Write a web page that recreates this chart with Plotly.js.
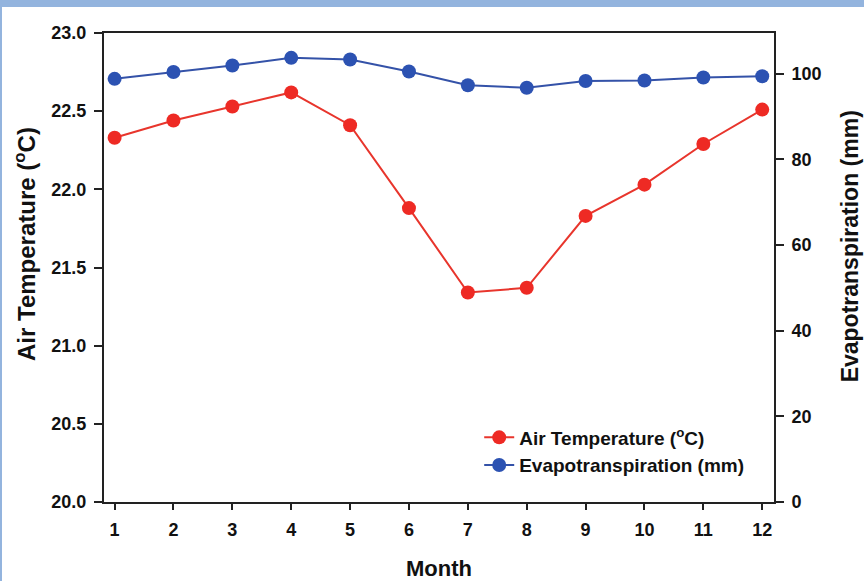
<!DOCTYPE html>
<html><head><meta charset="utf-8">
<script src="https://cdn.plot.ly/plotly-3.0.1.min.js"></script>
<style>
body{margin:0;background:#fff;}
#chart{width:864px;height:581px;position:absolute;left:0;top:0;}
#ftop{position:absolute;left:0;top:0;width:864px;height:7px;background:#93b4de;z-index:5;}
#fleft{position:absolute;left:0;top:0;width:2px;height:581px;background:#93b4de;z-index:5;}
</style>
</head><body>
<div id="chart"></div><div id="ftop"></div><div id="fleft"></div>
<script>
const months = [1,2,3,4,5,6,7,8,9,10,11,12];
const airTemp = [22.33,22.44,22.53,22.62,22.41,21.88,21.34,21.37,21.83,22.03,22.29,22.51];
const evapo = [98.8,100.4,101.9,103.7,103.3,100.5,97.3,96.7,98.3,98.4,99.1,99.4];
const xTicks = [1,2,3,4,5,6,7,8,9,10,11,12];
const yTicks = [20.0,20.5,21.0,21.5,22.0,22.5,23.0];
const y2Ticks = [0,20,40,60,80,100];
const xTitle = 'Month';
const yTitle = 'Air Temperature (<sup>o</sup>C)';
const y2Title = 'Evapotranspiration (mm)';

const F = 'Liberation Sans, Arial, sans-serif';
const red = '#ee2a24', blue = '#2c52b2';
const traces = [
  {x: months, y: airTemp, name: 'Air Temperature (<sup>o</sup>C)', type:'scatter', mode:'lines+markers',
   line:{color:'#e8352c', width:2}, marker:{color:red, size:14}},
  {x: months, y: evapo, name: 'Evapotranspiration (mm)', type:'scatter', mode:'lines+markers', yaxis:'y2',
   line:{color:'#3452a8', width:2}, marker:{color:blue, size:14}}
];
const axisCommon = {showline:true, linecolor:'#222', linewidth:2, ticks:'outside', tickcolor:'#222', tickwidth:2,
  showgrid:false, zeroline:false, tickfont:{family:F, size:18, weight:700, color:'#111'}};
const titleFont = {family:F, size:22, weight:700, color:'#111'};
const layout = {
  width:864, height:581,
  margin:{l:104, r:90, t:33, b:79},
  paper_bgcolor:'#fff', plot_bgcolor:'#fff',
  showlegend:true,
  legend:{x:0.56, y:0.178, xanchor:'left', yanchor:'top', bgcolor:'rgba(0,0,0,0)',
    font:{family:F, size:19, weight:700, color:'#111'}, tracegroupgap:0},
  xaxis: Object.assign({}, axisCommon, {range:[0.82,12.2], tickvals:xTicks, ticktext:xTicks.map(String), ticklen:6, mirror:true,
    ticklabelstandoff:4, title:{text:xTitle, font:titleFont, standoff:23}}),
  yaxis: Object.assign({}, axisCommon, {range:[20,23], tickvals:yTicks, ticktext:yTicks.map(v=>v.toFixed(1)), ticklen:8,
    ticklabelstandoff:4}),
  yaxis2: Object.assign({}, axisCommon, {range:[0,109.5], overlaying:'y', side:'right', tickvals:y2Ticks, ticklen:8,
    ticklabelstandoff:4}),
  annotations:[
    {text:yTitle, xref:'paper', yref:'paper', x:-0.118, y:0.55, xanchor:'center', yanchor:'middle', textangle:-90,
     showarrow:false, font:{family:F, size:24, weight:700, color:'#111'}},
    {text:y2Title, xref:'paper', yref:'paper', x:1.1134, y:0.545, xanchor:'center', yanchor:'middle', textangle:-90,
     showarrow:false, font:{family:F, size:23, weight:700, color:'#111'}}
  ]
};
Plotly.newPlot('chart', traces, layout, {displayModeBar:false, staticPlot:true});
</script>
</body></html>
